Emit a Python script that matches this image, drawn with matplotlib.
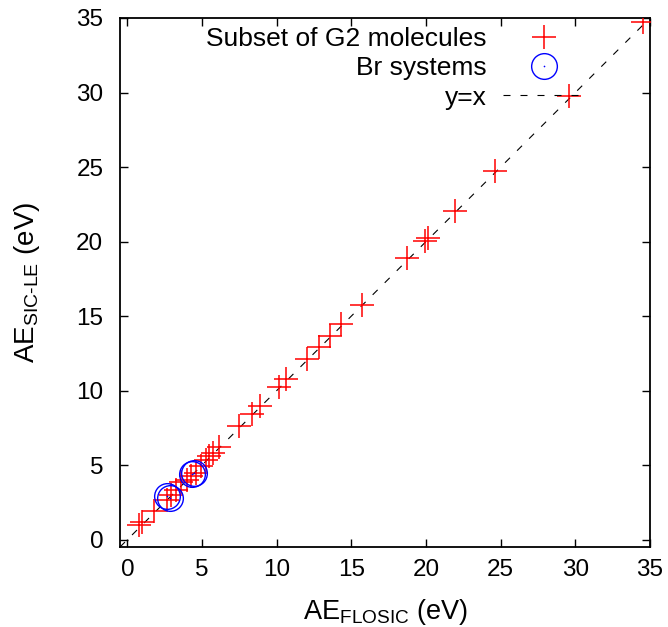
import matplotlib
matplotlib.use("Agg")
import matplotlib.pyplot as plt
from matplotlib.legend_handler import HandlerTuple

plt.rcParams['font.family'] = ['Liberation Sans', 'DejaVu Sans']
plt.rcParams['mathtext.fontset'] = 'custom'
plt.rcParams['mathtext.rm'] = 'Liberation Sans'
plt.rcParams['mathtext.it'] = 'Liberation Sans:italic'

# atomization energies (eV)
g2_flosic = [0.8, 1.0, 1.8, 2.63, 2.92, 3.26, 3.59, 3.97, 4.26, 4.6, 4.93, 5.27,
             5.45, 5.7, 6.15, 7.5, 8.35, 8.9, 10.15, 10.6, 12.05, 12.85, 13.55,
             14.3, 15.7, 18.75, 19.95, 20.1, 21.95, 24.6, 29.6, 34.55]
g2_sicle = [0.95, 1.15, 1.9, 2.68, 3.0, 3.35, 3.84, 4.02, 4.25, 4.47, 4.92, 5.37,
            5.6, 5.8, 6.2, 7.6, 8.4, 8.95, 10.25, 10.75, 12.1, 12.9, 13.65,
            14.45, 15.75, 18.9, 20.05, 20.25, 22.05, 24.75, 29.75, 34.7]
br_flosic = [2.65, 2.85, 4.35, 4.45]
br_sicle = [2.9, 2.8, 4.4, 4.45]
diag = [-0.5, 35]
ticks = [0, 5, 10, 15, 20, 25, 30, 35]

fig = plt.figure(figsize=(6.68, 6.27), dpi=100)
ax = fig.add_axes([120/668, 1 - 547/627, 530/668, 529/627])

plus, = ax.plot(g2_flosic, g2_sicle, ls='none', marker='+', ms=17.5, mew=1.1,
                color='#ff0000', zorder=3)
circ, = ax.plot(br_flosic, br_sicle, ls='none', marker='o', ms=18.5, mew=1.0,
                mfc='none', mec='#0000ff', zorder=4)
dot, = ax.plot(br_flosic, br_sicle, ls='none', marker='o', ms=1.2, mew=0,
               color='#0000ff', zorder=4)
line, = ax.plot(diag, diag, color='black', lw=0.8, dashes=(6.3, 9), zorder=2)

ax.set_xlim(-0.5, 35)
ax.set_ylim(-0.5, 35)
ax.set_xticks(ticks)
ax.set_yticks(ticks)
ax.tick_params(direction='in', length=6, width=1, labelsize=17.5,
               top=True, right=True)
ax.tick_params(axis='x', pad=9)
ax.tick_params(axis='y', pad=12)
for sp in ax.spines.values():
    sp.set_linewidth(1.3)

ax.set_xlabel(r'AE$_{\mathrm{FLOSIC}}$ (eV)', fontsize=19.5)
ax.set_ylabel(r'AE$_{\mathrm{SIC\text{-}LE}}$ (eV)', fontsize=20)
ax.xaxis.set_label_coords(0.5, -0.094)
ax.yaxis.set_label_coords(-0.148, 0.5)

ax.legend([plus, (circ, dot), line],
          ['Subset of G2 molecules', 'Br systems', 'y=x'],
          handler_map={tuple: HandlerTuple(ndivide=1, pad=0)},
          loc='upper right', bbox_to_anchor=(585/668, 1 - 27/627),
          bbox_transform=fig.transFigure, frameon=False, markerfirst=False,
          fontsize=19, handlelength=3.1, handletextpad=0.62,
          labelspacing=0.2, borderpad=0, borderaxespad=0)

fig.savefig('out.png', dpi=100)
